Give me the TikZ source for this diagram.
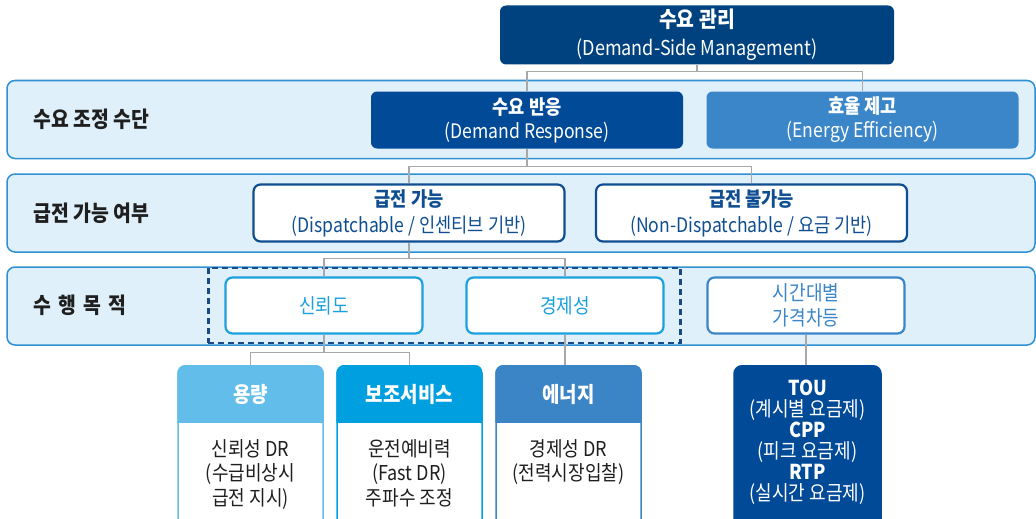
\documentclass[tikz,border=0pt]{standalone}
\usepackage{fontspec}
\setmainfont{Noto Sans CJK KR}[FakeStretch=0.88]
\usepackage{tikz}
\usetikzlibrary{fit}
\definecolor{dsmnavy}{HTML}{00427F}
\definecolor{drblue}{HTML}{004A97}
\definecolor{eeblue}{HTML}{3A86C8}
\definecolor{bandfill}{HTML}{DFF0FA}
\definecolor{bandline}{HTML}{2E91D4}
\definecolor{dispnavy}{HTML}{0F4E91}
\definecolor{relcyan}{HTML}{1BA1DE}
\definecolor{capblue}{HTML}{63BDEB}
\definecolor{ancblue}{HTML}{00A0E0}
\definecolor{eneblue}{HTML}{3B84C6}
\definecolor{conngray}{HTML}{A8A8A8}
\definecolor{grpnavy}{HTML}{1A4A85}

\begin{document}
\begin{tikzpicture}[x=1pt,y=-1pt,
  band/.style={draw=bandline,line width=1.5pt,fill=bandfill,rounded corners=8pt,
    minimum width=1028pt,minimum height=78pt},
  lbl/.style={anchor=west,inner sep=0pt,text=black!88,font=\fontsize{22}{24}\selectfont\bfseries},
  solidbox/.style={fill=#1,text=white,rounded corners=6pt,minimum width=312pt,
    minimum height=57pt,align=center,inner sep=0pt,font=\fontsize{20}{24}\selectfont},
  linebox/.style={draw=dispnavy,line width=2.2pt,fill=white,text=dispnavy,rounded corners=7pt,
    minimum width=311pt,minimum height=57pt,align=center,inner sep=0pt,
    font=\fontsize{20}{26}\selectfont},
  goalbox/.style={draw=#1,text=#1,line width=2.2pt,fill=white,rounded corners=7pt,
    minimum width=197pt,minimum height=56pt,align=center,inner sep=0pt,
    font=\fontsize{20.5}{25}\selectfont},
  grp/.style={draw=grpnavy,line width=2.4pt,dash pattern=on 6pt off 4pt,
    inner xsep=16pt,inner ysep=8.5pt},
  conn/.style={draw=conngray,line width=1.2pt},
  capbox/.style={anchor=north,fill=white,line width=1.5pt,rounded corners=8pt,
    minimum width=145pt,minimum height=175pt},
  captext/.style={text=white,font=\fontsize{21.5}{24}\selectfont\bfseries},
  bodytext/.style={anchor=north,align=center,inner sep=0pt,text=black!88,
    font=\fontsize{20.5}{24.5}\selectfont}]
 \clip (0,0) rectangle (1036,519);

 % bands
 \node[band] (b1) at (521,119.5) {};
 \node[band] (b2) at (521,213) {};
 \node[band] (b3) at (521,306) {};
 \node[lbl] (l1) at (33,119) {수요 조정 수단};
 \node[lbl] (l2) at (33,213) {급전 가능 여부};
 \node[lbl] (l3) at (33,305) {수\,\,행\,\,목\,\,적};

 % top levels
 \node[solidbox=dsmnavy,minimum width=394pt,minimum height=59pt,
   font=\fontsize{20.5}{28}\selectfont] (dsm) at (697,35)
   {{\fontsize{22}{28}\selectfont\bfseries 수요 관리}\\(Demand-Side Management)};
 \node[solidbox=drblue] (dr) at (527,120) {\textbf{수요 반응}\\(Demand Response)};
 \node[solidbox=eeblue] (ee) at (862.5,120) {\textbf{효율 제고}\\(Energy Efficiency)};
 \node[linebox] (disp) at (409,213) {\textbf{급전 가능}\\(Dispatchable / 인센티브 기반)};
 \node[linebox] (ndisp) at (751.5,213) {\textbf{급전 불가능}\\(Non-Dispatchable / 요금 기반)};

 % purposes
 \node[goalbox=relcyan] (rel) at (324,305.5) {신뢰도};
 \node[goalbox=relcyan] (eco) at (565,305.5) {경제성};
 \node[goalbox=eeblue] (tp) at (806,305.5) {시간대별\\가격차등};
 \node[grp,fit=(rel)(eco)] (cand) {};

 % market boxes
 \foreach \n/\cx/\col/\hd/\bd in {cap/250.5/capblue/용량/{신뢰성 DR\\(수급비상시\\급전 지시)},
   anc/409.5/ancblue/보조서비스/{운전예비력\\(Fast DR)\\주파수 조정},
   ene/568.5/eneblue/에너지/{경제성 DR\\(전력시장입찰)}} {
  \node[capbox,draw=\col] (\n) at (\cx,365) {};
  \begin{scope}
   \clip[rounded corners=8pt] (\n.north west) rectangle (\n.south east);
   \fill[\col] (\n.north west) rectangle ([yshift=-58pt]\n.north east);
  \end{scope}
  \node[captext] (\n-h) at ([yshift=-29pt]\n.north) {\hd};
  \node[bodytext] (\n-b) at ([yshift=-74pt]\n.north) {\bd};
 }
 \node[capbox,fill=drblue,draw=drblue,minimum width=147pt] (tou) at (807.5,365) {};
 \node[align=center,text=white,inner sep=0pt,font=\fontsize{20.5}{21}\selectfont] (tou-t)
   at (807.5,442.5) {\textbf{TOU}\\(계시별 요금제)\\\textbf{CPP}\\(피크 요금제)\\\textbf{RTP}\\(실시간 요금제)};

 % connectors
 \draw[conn] (dsm.south) -- ++(0,7) -| (dr.north);
 \draw[conn] (dsm.south) -- ++(0,7) -| (ee.north);
 \draw[conn] (dr.south) -- ++(0,18) -| (disp.north);
 \draw[conn] (dr.south) -- ++(0,18) -| (ndisp.north);
 \draw[conn] (disp.south) -- ++(0,16) -| (rel.north);
 \draw[conn] (disp.south) -- ++(0,16) -| (eco.north);
 \draw[conn] (rel.south) -- ++(0,18) -| (cap.north);
 \draw[conn] (rel.south) -- ++(0,18) -| (anc.north);
 \draw[conn] (eco.south) -- (eco.south |- ene.north);
 \draw[conn] (tp.south) -- (tp.south |- tou.north);
\end{tikzpicture}
\end{document}
